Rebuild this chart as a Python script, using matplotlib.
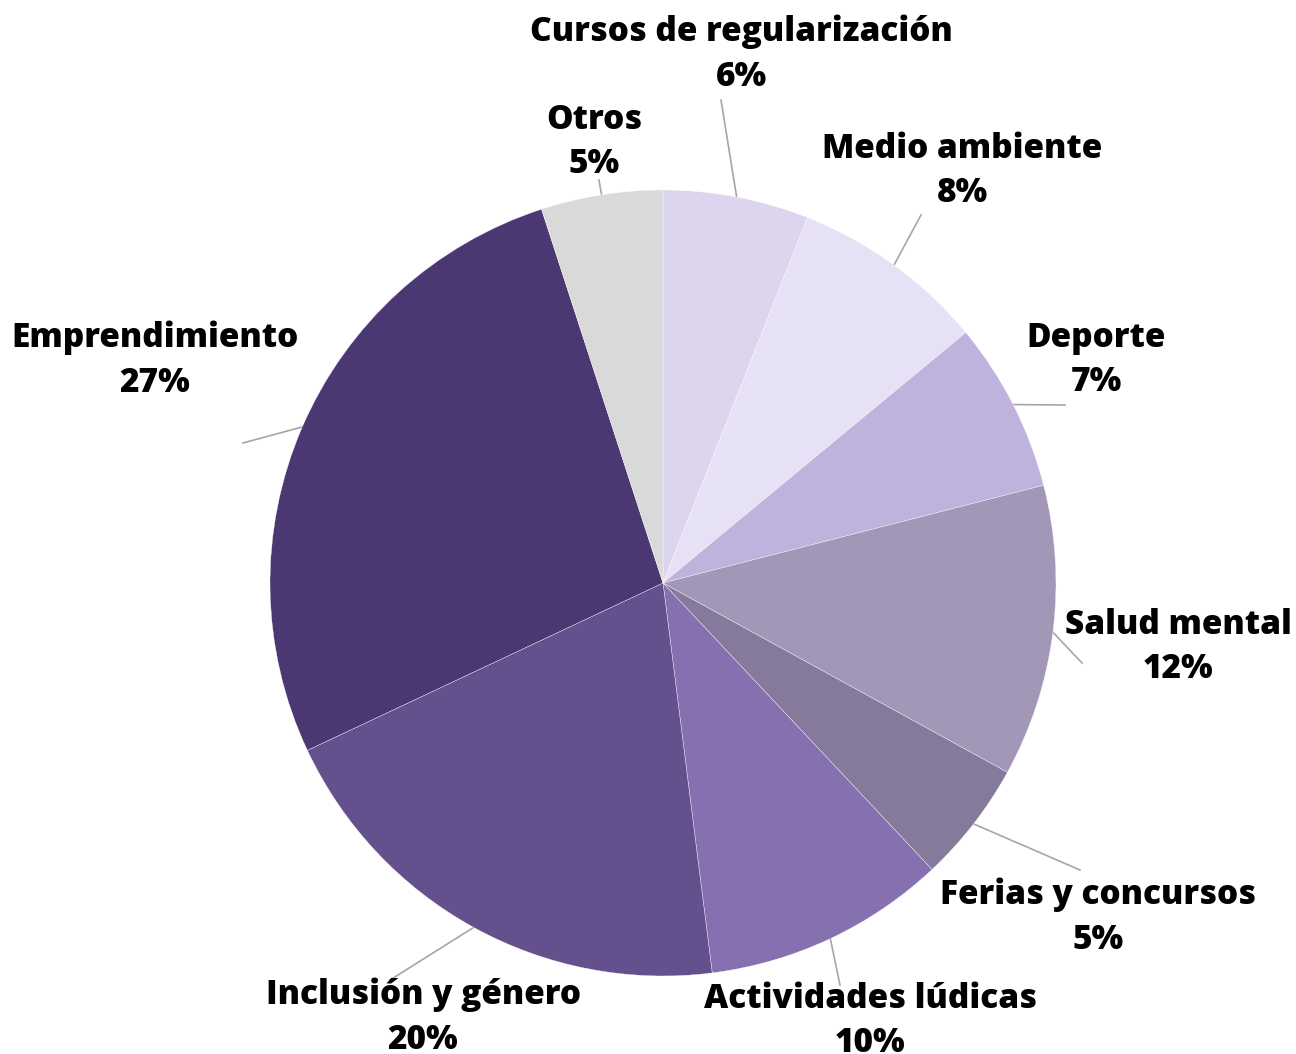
import numpy as np
import matplotlib.pyplot as plt

plt.rcParams['font.family'] = ['Open Sans', 'DejaVu Sans']

labels = ['Cursos de regularización', 'Medio ambiente', 'Deporte', 'Salud mental',
          'Ferias y concursos', 'Actividades lúdicas', 'Inclusión y género',
          'Emprendimiento', 'Otros']
values = [6, 8, 7, 12, 5, 10, 20, 27, 5]
colors = ['#DDD5EE', '#E6E1F5', '#BFB2DD', '#A397B8', '#857A9C',
          '#8770B0', '#64508C', '#4B3872', '#D9D9D9']

# label centres (pixel coords, top-left origin) and leader line ends
label_pos = [(741, 54), (962, 171), (1096, 360), (1178, 647), (1098, 917),
             (870, 1021), (423, 1017), (155, 360), (594, 142)]
line_end = [(721, 100), (921, 215), (1065, 405), (1082, 663), (1080, 870),
            (840, 985), (390, 980), (243, 443), (599, 180)]

W, H = 1296, 1054
fig = plt.figure(figsize=(W / 100, H / 100), dpi=100)
ax = fig.add_axes([0, 0, 1, 1])

cx, cy, r = 663, H - 583, 393
wedges, _ = ax.pie(values, colors=colors, startangle=90, counterclock=False,
                   center=(cx, cy), radius=r, frame=True,
                   wedgeprops=dict(edgecolor='white', linewidth=0.25))
ax.set_xlim(0, W)
ax.set_ylim(0, H)
ax.set_aspect('equal')
ax.axis('off')

for w, lab, v, (tx, ty), (ex, ey) in zip(wedges, labels, values, label_pos, line_end):
    mid = np.deg2rad((w.theta1 + w.theta2) / 2)
    sx, sy = cx + r * np.cos(mid), cy + r * np.sin(mid)
    ax.plot([sx, ex], [sy, H - ey], color='#A6A6A6', lw=1.2, zorder=0.5)
    ax.text(tx, H - ty, f'{lab}\n{v}%', ha='center', va='center',
            fontsize=24, fontweight='heavy', color='black', linespacing=1.42)

fig.savefig('out.png', dpi=100)
